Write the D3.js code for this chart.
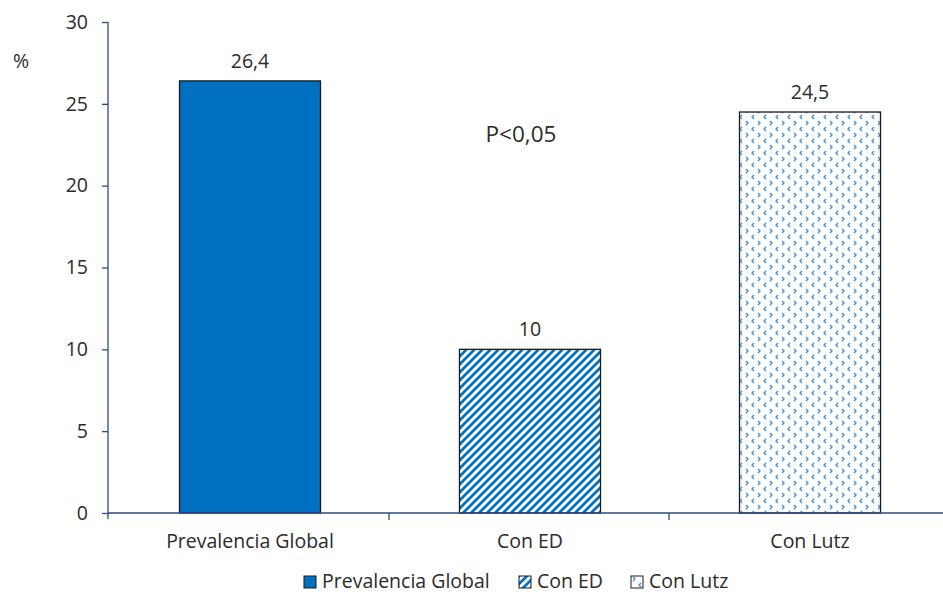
<!DOCTYPE html>
<html>
<head>
<meta charset="utf-8">
<script src="https://cdn.jsdelivr.net/npm/d3@7"></script>
<style>
  body { margin: 0; background: #fff; }
  text { font-family: "Open Sans", sans-serif; fill: #2b2b2b; }
</style>
</head>
<body>
<svg id="chart" width="943" height="594"></svg>
<script>
// data
var categories = ['Prevalencia Global', 'Con ED', 'Con Lutz'];
var values = [26.4, 10, 24.5];
var valueLabels = ['26,4', '10', '24,5'];
var yTicks = [0, 5, 10, 15, 20, 25, 30];
var fills = ['url(#solid)', 'url(#stripes)', 'url(#chevrons)'];

var blue = '#0070c0';
var axisColor = '#2f4a85';
var fs = '19.5px';

var svg = d3.select('#chart');
var defs = svg.append('defs');

// diagonal stripes
var st = defs.append('pattern')
	.attr('id', 'stripes')
	.attr('patternUnits', 'userSpaceOnUse')
	.attr('width', 8).attr('height', 8);
st.append('rect').attr('width', 8).attr('height', 8).attr('fill', '#fff');
st.append('path')
	.attr('d', 'M-1,1 L1,-1 M0,8 L8,0 M7,9 L9,7')
	.attr('stroke', blue).attr('stroke-width', 2.7);

// small chevrons
var ch = defs.append('pattern')
	.attr('id', 'chevrons')
	.attr('patternUnits', 'userSpaceOnUse')
	.attr('width', 12).attr('height', 12);
ch.append('rect').attr('width', 12).attr('height', 12).attr('fill', '#fff');
ch.append('path')
	.attr('d', 'M2,1 L4,3 L2,5 M10,7 L8,9 L10,11')
	.attr('fill', 'none').attr('stroke', '#3d8fd6').attr('stroke-width', 1.3);

var sol = defs.append('pattern')
	.attr('id', 'solid')
	.attr('patternUnits', 'userSpaceOnUse')
	.attr('width', 4).attr('height', 4);
sol.append('rect').attr('width', 4).attr('height', 4).attr('fill', blue);

var x = d3.scaleBand()
	.domain(categories)
	.range([108, 948])
	.paddingInner(0.5)
	.paddingOuter(0.25);

var y = d3.scaleLinear()
	.domain([0, 30])
	.range([513, 22]);

// bars
svg.selectAll('rect.bar')
	.data(values)
	.enter()
	.append('rect')
	.attr('class', 'bar')
	.attr('x', function(d, i) { return x(categories[i]) + 1.5; })
	.attr('y', function(d) { return y(d); })
	.attr('width', x.bandwidth() + 1)
	.attr('height', function(d) { return y(0) - y(d); })
	.attr('fill', function(d, i) { return fills[i]; })
	.attr('stroke', '#1a1a1a')
	.attr('stroke-width', 1.3);

// value labels
svg.selectAll('text.val')
	.data(values)
	.enter()
	.append('text')
	.attr('class', 'val')
	.attr('x', function(d, i) { return x(categories[i]) + 2 + x.bandwidth() / 2; })
	.attr('y', function(d) { return y(d) - 13; })
	.attr('text-anchor', 'middle')
	.style('font-size', fs)
	.text(function(d, i) { return valueLabels[i]; });

// y axis
var yAxis = svg.append('g')
	.attr('transform', 'translate(108,0)')
	.call(d3.axisLeft(y).tickValues(yTicks).tickSize(6).tickPadding(14));
yAxis.select('.domain').attr('stroke', axisColor).attr('stroke-width', 1.3)
	.attr('d', 'M0,' + y(30) + 'V' + (y(0) + 6));
yAxis.selectAll('.tick line').attr('stroke', axisColor).attr('stroke-width', 1.3);
yAxis.selectAll('.tick text')
	.style('font-size', fs)
	.attr('fill', '#2b2b2b')
	.style('font-family', '"Open Sans", sans-serif');

// x axis
svg.append('line')
	.attr('x1', 108).attr('x2', 943)
	.attr('y1', y(0)).attr('y2', y(0))
	.attr('stroke', axisColor).attr('stroke-width', 1.5);

svg.selectAll('line.xtick')
	.data(categories.slice(1))
	.enter()
	.append('line')
	.attr('class', 'xtick')
	.attr('x1', function(d) { return x(d) - x.step() * 0.25 + 1; })
	.attr('x2', function(d) { return x(d) - x.step() * 0.25 + 1; })
	.attr('y1', y(0)).attr('y2', y(0) + 7)
	.attr('stroke', axisColor).attr('stroke-width', 1.3);

svg.selectAll('text.cat')
	.data(categories)
	.enter()
	.append('text')
	.attr('class', 'cat')
	.attr('x', function(d) { return x(d) + 2 + x.bandwidth() / 2; })
	.attr('y', 548)
	.attr('text-anchor', 'middle')
	.style('font-size', fs)
	.text(function(d) { return d; });

// unit label and note
svg.append('text')
	.attr('x', 13).attr('y', 68)
	.style('font-size', fs)
	.text('%');

svg.append('text')
	.attr('x', 521).attr('y', 142)
	.attr('text-anchor', 'middle')
	.style('font-size', '22.5px')
	.text('P<0,05');

// legend
var legendX = [304, 519, 631];
var leg = svg.selectAll('g.leg')
	.data(categories)
	.enter()
	.append('g')
	.attr('class', 'leg')
	.attr('transform', function(d, i) { return 'translate(' + legendX[i] + ',576)'; });

leg.append('rect')
	.attr('width', 12).attr('height', 12)
	.attr('fill', function(d, i) { return fills[i]; })
	.attr('stroke', '#1a1a1a').attr('stroke-width', 1);

leg.append('text')
	.attr('x', 18).attr('y', 12)
	.style('font-size', fs)
	.text(function(d) { return d; });
</script>
</body>
</html>
